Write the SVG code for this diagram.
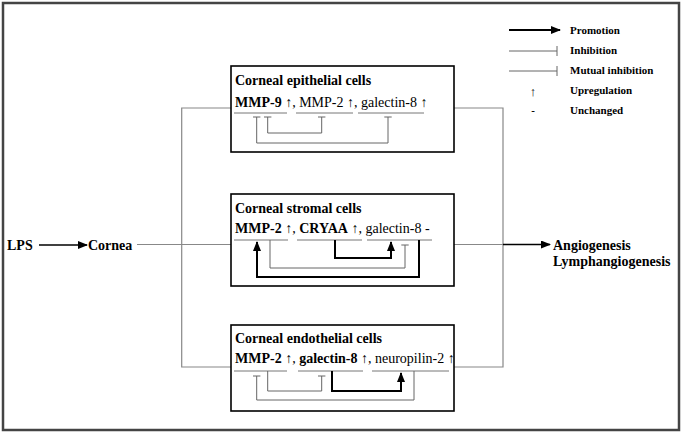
<svg xmlns="http://www.w3.org/2000/svg" width="682" height="433" viewBox="0 0 682 433">
<style>
text{font-family:"Liberation Serif","Times New Roman",serif;fill:#000}
.t{font-size:14px}
.b{font-weight:bold}
.lg{font-size:11px;font-weight:bold}
.box{fill:#fff;stroke:#000;stroke-width:1.6}
.ul{stroke:#777;stroke-width:1;fill:none}
.inh{stroke:#666;stroke-width:1;fill:none}
.pro{stroke:#000;stroke-width:2;fill:none}
.con{stroke:#888;stroke-width:1.2;fill:none}
.blk{stroke:#000;stroke-width:1.4;fill:none}
</style>
<defs>
<marker id="ah" markerUnits="userSpaceOnUse" markerWidth="10" markerHeight="8" refX="9" refY="4" orient="auto">
<path d="M0,0 L10,4 L0,8 Z" fill="#000"/>
</marker>
</defs>
<rect x="3" y="3" width="676" height="427" fill="#fff" stroke="#444" stroke-width="2.5"/>

<g id="connectors">
<path class="blk" d="M39,245 H87" marker-end="url(#ah)"/>
<path class="con" d="M137,244.5 H231"/>
<path class="con" d="M231,108 H181.7 V367 H231"/>
<path class="con" d="M454,108 H503 V367 H454"/>
<path class="con" d="M454,244.5 H503"/>
<path class="blk" d="M503,244.5 H550" marker-end="url(#ah)"/>
</g>

<g id="legend">
<path class="pro" d="M509,30 H560" marker-end="url(#ah)"/>
<text class="lg" x="570" y="34">Promotion</text>
<path class="inh" d="M509,51 H557 M557,46 V56"/>
<text class="lg" x="570" y="54">Inhibition</text>
<path class="inh" d="M509,71 H557 M557,66 V76"/>
<text class="lg" x="570" y="74">Mutual inhibition</text>
<text x="533" y="96" font-size="13" text-anchor="middle">↑</text>
<text class="lg" x="570" y="94">Upregulation</text>
<text class="lg" x="533" y="114" text-anchor="middle">-</text>
<text class="lg" x="570" y="114">Unchanged</text>
</g>

<g id="lps"><text class="t b" x="7" y="250">LPS</text></g>
<g id="cornea"><text class="t b" x="88" y="250">Cornea</text></g>
<g id="outcome">
<text class="t b" x="553" y="250">Angiogenesis</text>
<text class="t b" x="553" y="266">Lymphangiogenesis</text>
</g>

<g id="epithelial">
<rect class="box" x="231" y="66" width="223" height="86"/>
<text class="t b" x="235" y="85">Corneal epithelial cells</text>
<text class="t" x="235" y="107"><tspan class="b">MMP-9</tspan> ↑, MMP-2 ↑, galectin-8 ↑</text>
<path class="ul" d="M234,113 H287 M296,113 H353 M358,113 H424"/>
<path class="inh" d="M256.7,117 V143 H388 V117 M253,117 H260.4 M384.3,117 H391.7"/>
<path class="inh" d="M267.7,117 V133 H321.7 V117 M264,117 H271.4 M318,117 H325.4"/>
</g>

<g id="stromal">
<rect class="box" x="231" y="194" width="223" height="92"/>
<text class="t b" x="235" y="213">Corneal stromal cells</text>
<text class="t" x="235" y="233"><tspan class="b">MMP-2</tspan> ↑, <tspan class="b">CRYAA</tspan> ↑, galectin-8 -</text>
<path class="ul" d="M234,240 H288 M297,240 H362 M367,240 H432"/>
<path class="pro" d="M335,240 V258 H391 V242" marker-end="url(#ah)"/>
<path class="inh" d="M270,240 V268 H405 V245 M401.3,245 H408.7"/>
<path class="pro" d="M419,240 V277 H257 V242" marker-end="url(#ah)"/>
</g>

<g id="endothelial">
<rect class="box" x="231" y="325" width="223" height="86"/>
<text class="t b" x="235" y="343">Corneal endothelial cells</text>
<text class="t" x="235" y="363"><tspan class="b">MMP-2</tspan> ↑, <tspan class="b">galectin-8</tspan> ↑, neuropilin-2 ↑</text>
<path class="ul" d="M234,371 H287 M298,371 H363 M372,371 H449"/>
<path class="inh" d="M256.7,376 V400 H414 V371 M253,376 H260.4"/>
<path class="inh" d="M321.7,376 V391 H267.7 V371 M318,376 H325.4"/>
<path class="pro" d="M332,371 V391 H401 V373" marker-end="url(#ah)"/>
</g>
</svg>
